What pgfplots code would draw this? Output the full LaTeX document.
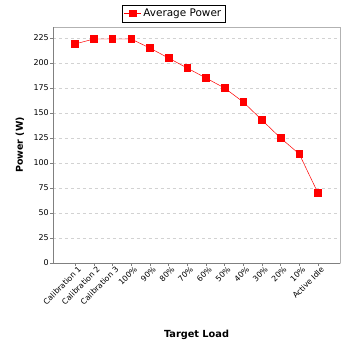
\documentclass[border=0pt]{standalone}
\usepackage{pgfplots}
\pgfplotsset{compat=1.18}
\usepackage{fontspec}
\setmainfont{DejaVu Sans}
\begin{document}
\begin{tikzpicture}[x=1bp,y=1bp]
\path[use as bounding box] (0,0) rectangle (348,348);
\begin{axis}[
  at={(53bp,85bp)}, anchor=south west,
  scale only axis, width=287bp, height=236bp,
  xmin=-1.18, xmax=14.18, ymin=0, ymax=236,
  xtick={0,1,2,3,4,5,6,7,8,9,10,11,12,13},
  xticklabels={Calibration 1,Calibration 2,Calibration 3,100\%,90\%,80\%,70\%,60\%,50\%,40\%,30\%,20\%,10\%,Active Idle},
  x tick label style={rotate=45, anchor=north east, font=\fontsize{7.8}{8}\selectfont, inner sep=0.5pt, xshift=2.5bp, yshift=-1bp},
  ytick={0,25,...,225},
  y tick label style={font=\fontsize{8}{9}\selectfont, inner sep=1pt},
  /pgf/number format/assume math mode=true,
  tick align=outside, tick pos=left,
  major tick length=3bp,
  tick style={gray, thin},
  axis line style={draw=none},
  ymajorgrids, grid style={dashed, gray!35, thin},
  ylabel={\bfseries Power (W)}, ylabel style={font=\fontsize{9.5}{10}\selectfont, at={(axis description cs:0,0.5)}, anchor=center, xshift=0bp, yshift=33bp},
  xlabel={\bfseries Target Load}, xlabel style={font=\fontsize{9.8}{10}\selectfont, at={(axis description cs:0.5,0)}, anchor=center, yshift=-72bp},
  legend style={at={(0.42,1)}, anchor=south, yshift=5bp, font=\fontsize{10.5}{12}\selectfont, draw=black, inner sep=2pt, legend cell align=left},
  clip=false,
]
\draw[gray!60] (rel axis cs:0,1) -- (rel axis cs:1,1) -- (rel axis cs:1,0);
\draw[gray] (rel axis cs:0,0) -- (rel axis cs:0,1);
\draw[gray] (rel axis cs:0,0) -- (rel axis cs:1,0);
\addplot[red, line width=0.5pt, mark=square*, mark size=3.3bp, mark options={fill=red, draw=red}] coordinates {
(0,219) (1,224) (2,224) (3,224) (4,215) (5,205) (6,195) (7,185) (8,175) (9,161) (10,143) (11,125) (12,109) (13,70)
};
\addlegendentry{Average Power}
\end{axis}
\end{tikzpicture}
\end{document}
